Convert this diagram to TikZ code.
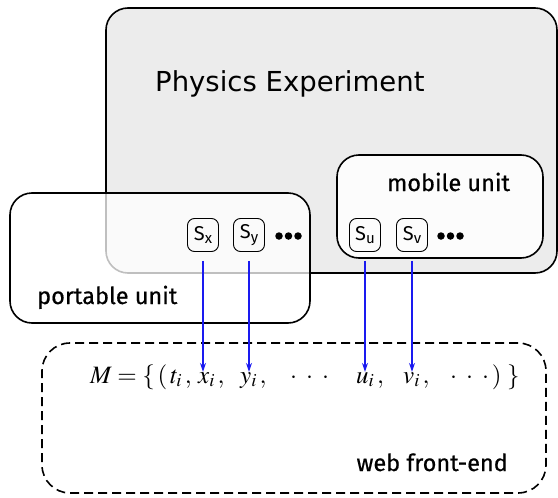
\documentclass[tikz,border=0pt]{standalone}
\usepackage{mathptmx}
\usepackage{fontspec}
\newfontfamily\titlefont{DejaVu Sans}
\newfontfamily\unitfont[FakeBold=0.6]{Fira Sans}
\newfontfamily\sensfont{Fira Sans}
\usepackage{tikz}
\usetikzlibrary{positioning,calc,arrows.meta}

\definecolor{expgray}{HTML}{ECECEC}
\definecolor{arrowblue}{HTML}{1A1AF0}

\tikzset{
  unitbox/.style={draw=black, line width=1.6pt, rounded corners=22pt, inner sep=0pt},
  unitlabel/.style={inner sep=0pt, font=\unitfont\fontsize{23.5}{23.5}\selectfont},
  sensor/.style={draw=black, line width=0.9pt, rounded corners=7pt, minimum width=31pt,
    minimum height=33pt, inner sep=0pt, font=\sensfont\fontsize{20}{20}\selectfont},
  dot/.style={circle, fill=black, inner sep=0pt, minimum size=7.5pt},
  term/.style={anchor=base west, inner sep=0pt, font=\fontsize{25}{25}\selectfont},
  signal/.style={draw=arrowblue, line width=1.1pt, -{Stealth[length=9pt,width=6pt]}, shorten <=9pt}
}

\begin{document}
\begin{tikzpicture}[x=1pt,y=-1pt]
    \useasboundingbox (0,0) rectangle (558,498);

    % Experiment and the units
    \node[unitbox, fill=expgray, minimum width=451pt, minimum height=265pt] (exp) at (331.5,140.5) {};
    \node[font=\titlefont\fontsize{27.5}{27.5}\selectfont, anchor=base west, inner sep=0pt] (title) at (155,91) {Physics Experiment};
    \node[unitbox, fill=white, fill opacity=0.75, minimum width=300pt, minimum height=130pt] (portable) at (160,258) {};
    \node[unitbox, fill=white, fill opacity=0.85, minimum width=206pt, minimum height=103pt] (mobile) at (440,206.5) {};
    \node[unitlabel, anchor=base west] (plabel) at (37,304) {portable unit};
    \node[unitlabel, anchor=base west] (mlabel) at (387,191) {mobile unit};

    % Sensors
    \foreach \x/\n/\s in {203/sx/x, 249/sy/y, 365/su/u, 412/sv/v} {
        \node[sensor] (\n) at (\x,235) {S\raisebox{-3.5pt}{\fontsize{15}{15}\selectfont\s}};
    }
    \foreach \x/\n in {279/pa, 288.5/pb, 298/pc, 441/ma, 450.5/mb, 460/mc} {
        \node[dot] (\n) at (\x,236) {};
    }

    % Web front-end
    \node[draw=black, line width=1.6pt, dash pattern=on 9pt off 5pt, rounded corners=28pt,
      minimum width=504pt, minimum height=150pt, inner sep=0pt] (web) at (294,418) {};
    \node[unitlabel, anchor=base east] (wlabel) at (508,471) {web front-end};

    % Measurement tuple
    \node[term, anchor=base east] (lead) at (192,383) {$M = \{\,(\,t_i\,,$};
    \node[term] (xi) at (198,383) {$x_i\,,$};
    \node[term] (yi) at (240,383) {$y_i\,,$};
    \node[term] (d1) at (290,383) {$\cdot\;\cdot\;\cdot$};
    \node[term] (ui) at (356,383) {$u_i\,,$};
    \node[term] (vi) at (403,383) {$v_i\,,$};
    \node[term] (tail) at (450,383) {$\cdot\;\cdot\;\cdot\,)\;\}$};

    % Signals
    \foreach \s/\t in {sx/xi, sy/yi, su/ui, sv/vi} {
        \draw[signal] (\s.south) -- (\s.south |- \t.north);
    }
\end{tikzpicture}
\end{document}
